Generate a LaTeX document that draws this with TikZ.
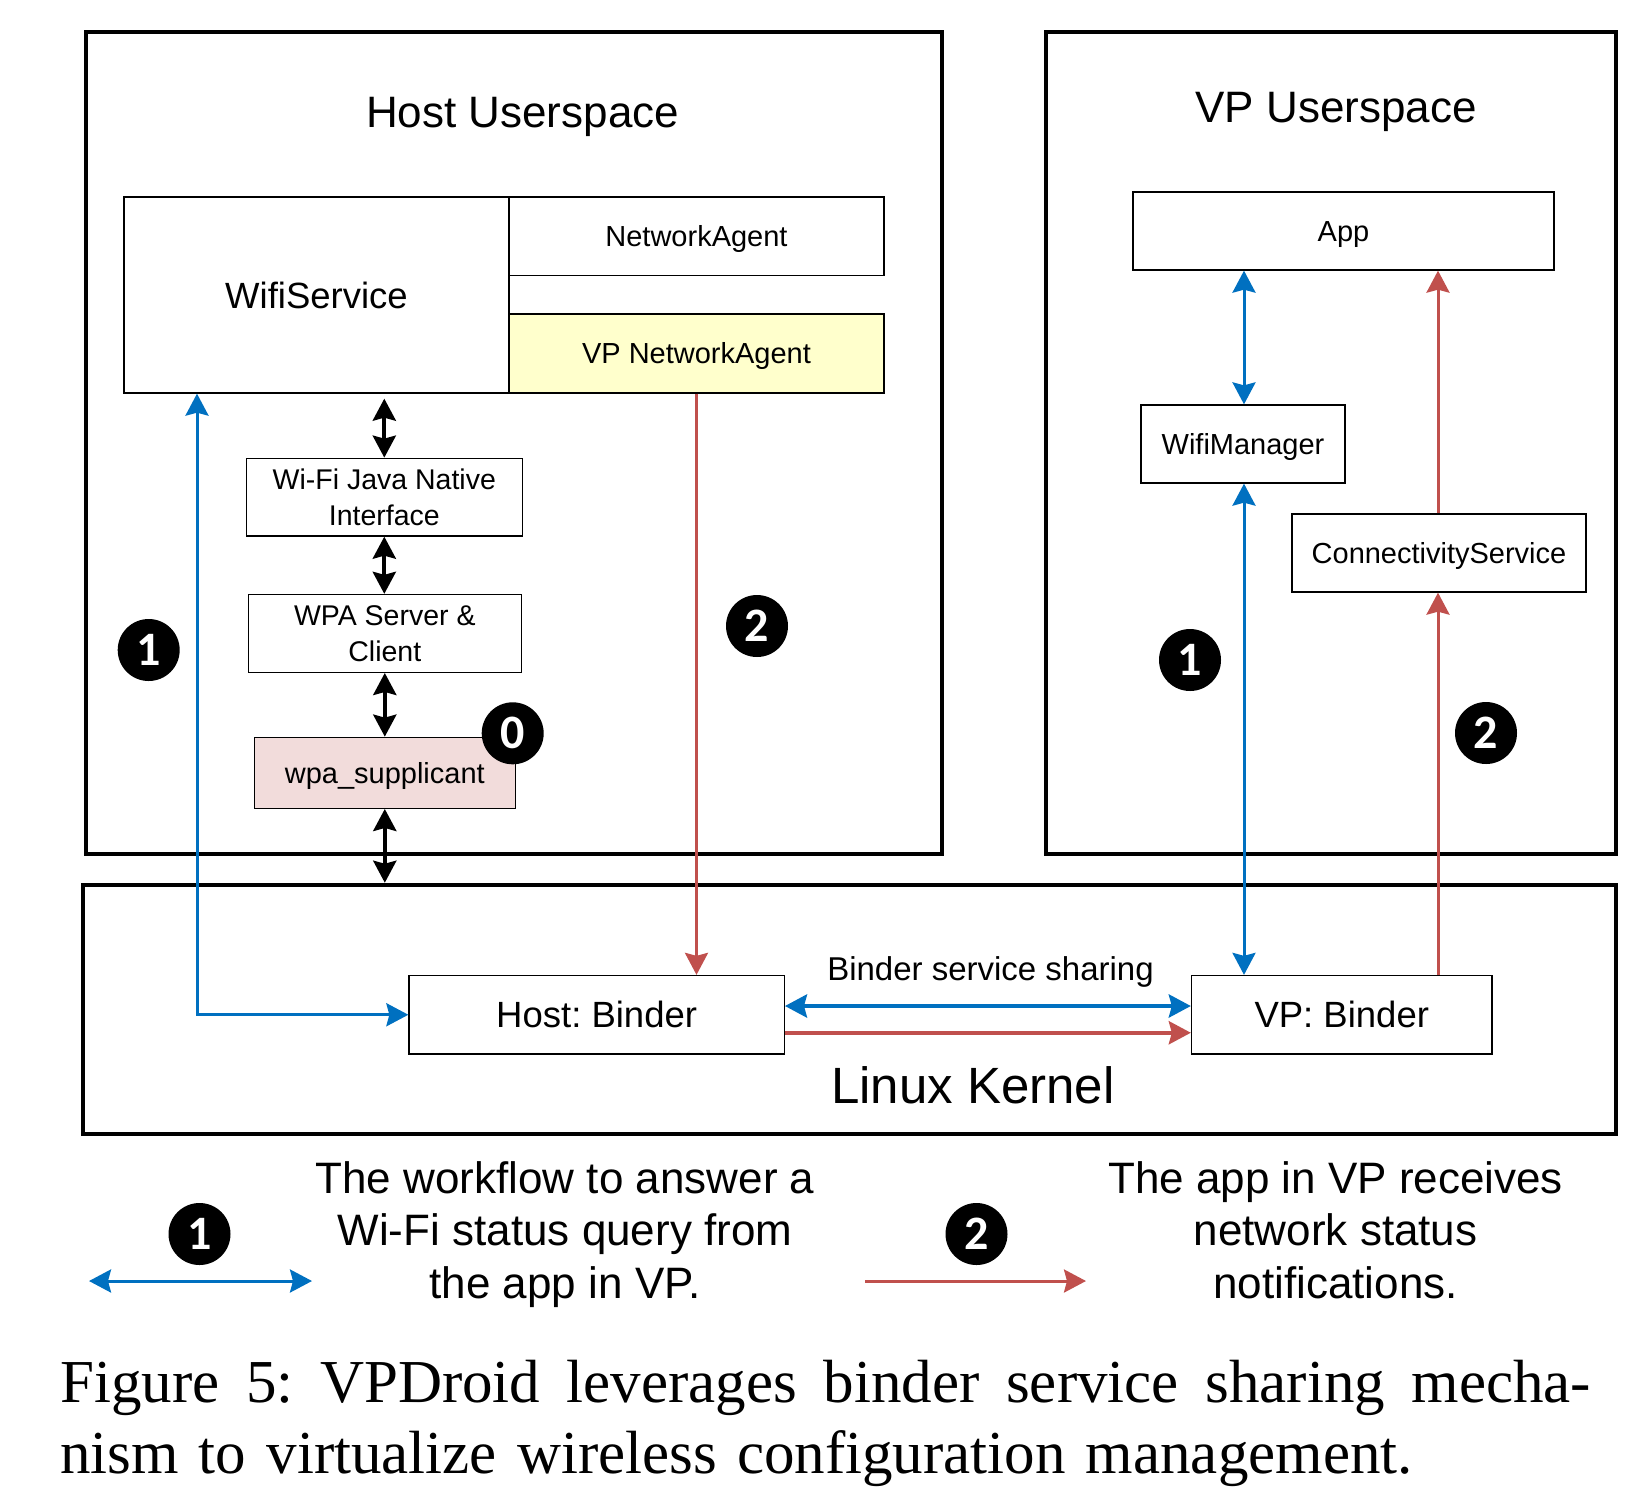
\documentclass[tikz,border=0pt]{standalone}
\usepackage{fontspec}
\setmainfont{Liberation Serif}
\newfontfamily\arialf{Liberation Sans}
\newfontfamily\badgef{Carlito}
\usetikzlibrary{arrows.meta}
\definecolor{myblue}{RGB}{0,112,192}
\definecolor{myred}{RGB}{192,80,77}
\definecolor{myyellow}{RGB}{255,255,204}
\definecolor{mypink}{RGB}{242,220,219}
\frenchspacing
\begin{document}
\begin{tikzpicture}[x=1pt,y=-1pt,
  >={Stealth[length=22pt,width=23pt,inset=3pt]},
  big/.style={draw, line width=4.5pt, inner sep=0pt},
  box/.style={draw, line width=1.3pt, inner sep=0pt, font=\arialf\fontsize{29pt}{35pt}\selectfont, text height=20.8pt, text depth=0pt},
  bigtext/.style={box, font=\arialf\fontsize{36.5pt}{44pt}\selectfont, text height=26.1pt},
  mbox/.style={draw, line width=1.3pt, inner sep=0pt, align=center, font=\arialf\fontsize{28.5pt}{36pt}\selectfont},
  badge/.style={circle, fill=black, minimum size=62pt, inner sep=0pt, text=white, font=\badgef\bfseries\fontsize{48pt}{48pt}\selectfont, text height=30pt, text depth=0pt},
  blk/.style={<->, line width=4pt, black},
  bline/.style={myblue, line width=3pt},
  rline/.style={myred, line width=3pt},
  legtext/.style={align=center, anchor=base, font=\arialf\fontsize{44pt}{52.5pt}\selectfont}
]
\useasboundingbox (0,0) rectangle (1646,1505);
% containers
\node[big, minimum width=856pt, minimum height=822pt] (host) at (514,443) {};
\node[big, minimum width=570pt, minimum height=822pt] (vp) at (1331,443) {};
\node[big, minimum width=1533pt, minimum height=249pt] (kern) at (849.5,1009.5) {};
% titles
\node[anchor=base, font=\arialf\fontsize{44pt}{53pt}\selectfont] (htitle) at (522.5,127) {Host Userspace};
\node[anchor=base, font=\arialf\fontsize{44pt}{53pt}\selectfont] (vtitle) at (1336,122) {VP Userspace};
\node[anchor=base, font=\arialf\fontsize{51pt}{60pt}\selectfont] (lk) at (973,1103) {Linux Kernel};
\node[anchor=base, font=\arialf\fontsize{33pt}{40pt}\selectfont] (bss) at (990.5,980) {Binder service sharing};
% host boxes
\node[bigtext, minimum width=385pt, minimum height=196pt] (ws) at (316.5,295) {WifiService};
\node[box, minimum width=375pt, minimum height=78.5pt] (na) at (696.5,236.25) {NetworkAgent};
\node[box, fill=myyellow, minimum width=375pt, minimum height=79pt] (vpna) at (696.5,353.5) {VP NetworkAgent};
\node[mbox, minimum width=276pt, minimum height=77.7pt] (jni) at (384.3,497.15) {Wi-Fi Java Native\\Interface};
\node[mbox, minimum width=273pt, minimum height=77.8pt] (wpa) at (384.8,633.4) {WPA Server \&\\Client};
\node[box, fill=mypink, minimum width=261pt, minimum height=71pt] (sup) at (384.8,772.8) {wpa\_supplicant};
% vp boxes
\node[box, minimum width=421pt, minimum height=78pt] (app) at (1343.5,231) {App};
\node[box, minimum width=204pt, minimum height=78pt] (wm) at (1243,444) {WifiManager};
\node[box, minimum width=294pt, minimum height=78pt] (cs) at (1439,553) {ConnectivityService};
% binders
\node[bigtext, minimum width=375.3pt, minimum height=78.5pt] (hb) at (596.65,1014.75) {Host: Binder};
\node[bigtext, minimum width=300.5pt, minimum height=78.5pt] (vb) at (1341.75,1014.75) {VP: Binder};
% helper coordinates
\coordinate (bx) at (197,0);
\coordinate (vx) at (1244,0);
\coordinate (rx) at (1438,0);
% black stack arrows
\draw[blk, shorten <=5pt] (ws.south -| jni.north) -- (jni.north);
\draw[blk] (jni.south) -- (wpa.north -| jni.south);
\draw[blk] (wpa.south) -- (sup.north -| wpa.south);
\draw[blk] (sup.south) -- (sup.south |- kern.north);
% host flows
\draw[bline, <->] (ws.south -| bx) |- (hb.west);
\draw[rline, ->] (vpna.south) -- (vpna.south |- hb.north);
\draw[myblue, line width=4.2pt, <->] ([yshift=8.75pt]hb.east) -- ([yshift=8.75pt]vb.west);
\draw[myred, line width=4pt, ->] ([yshift=-18pt]hb.east) -- ([yshift=-18pt]vb.west);
% vp flows
\draw[bline, <->] (app.south -| vx) -- (wm.north -| vx);
\draw[bline, <->] (wm.south -| vx) -- (vb.north -| vx);
\draw[rline, ->] (vb.north -| rx) -- (cs.south -| rx);
\draw[rline, ->] (cs.north -| rx) -- (app.south -| rx);
% badges
\node[badge] (b1h) at (148.7,650) {1};
\node[badge] (b2h) at (757,626) {2};
\node[badge] (b0) at (512.7,733.3) {0};
\node[badge] (b1v) at (1190,660) {1};
\node[badge] (b2v) at (1486,733) {2};
% legend
\node[badge] (lb1) at (199.5,1234) {1};
\node[badge] (lb2) at (976.5,1234) {2};
\coordinate (la1) at (89,1281);
\coordinate (la2) at (312,1281);
\coordinate (lr1) at (865,1281);
\coordinate (lr2) at (1086,1281);
\draw[bline, <->] (la1) -- (la2);
\draw[rline, ->] (lr1) -- (lr2);
\node[legtext] (lt1) at (565,1298) {The workflow to answer a\\Wi-Fi status query from\\the app in VP.};
\node[legtext] (lt2) at (1335.6,1298) {The app in VP receives\\network status\\notifications.};
% caption
\node[anchor=base west, text width=1531pt, align=justify, inner sep=0pt, font=\fontsize{61pt}{71pt}\selectfont] (cap) at (60,1402) {\spaceskip=0.33em plus 1em minus 0.05em\relax Figure 5: VPDroid leverages binder service sharing mecha-\linebreak nism to virtualize wireless configuration management.};
\end{tikzpicture}
\end{document}
